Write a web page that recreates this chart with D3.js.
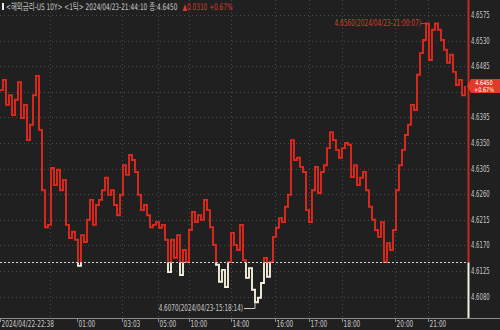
<!DOCTYPE html>
<html><head><meta charset="utf-8">
<script src="https://cdn.jsdelivr.net/npm/d3@7"></script>
<style>
html,body{margin:0;padding:0;background:#202020;}
svg{display:block;}
text{font-family:"Liberation Sans Narrow","DejaVu Sans Condensed","Arial Narrow","Noto Sans CJK KR",sans-serif;}
</style></head><body>
<svg id="c" width="500" height="330"></svg>
<script>
// ---- data ----
const titleMain = "<해외금리-US 10Y> <1틱> 2024/04/23-21:44:10 종:4.6450";
const titleChange = "▲0.0310 +0.67%";
const prevClose = 4.6140;
const lastValue = 4.6450;
const lastChangePct = "+0.67%";
const values = [
 4.6443,4.6461,4.6417,4.6434,4.6399,4.6426,4.6457,4.6394,4.6417,4.6355,
 4.6382,4.6434,4.6468,4.6373,4.6267,4.6202,4.6206,4.6306,4.6276,4.6303,
 4.6267,4.6285,4.6206,4.6183,4.6194,4.6180,4.6134,4.6188,4.6176,4.6215,
 4.6250,4.6206,4.6241,4.6250,4.6267,4.6289,4.6259,4.6267,4.6241,4.6223,
 4.6259,4.6311,4.6294,4.6329,4.6320,4.6299,4.6259,4.6232,4.6241,4.6223,
 4.6202,4.6206,4.6211,4.6201,4.6206,4.6180,4.6123,4.6180,4.6148,4.6188,
 4.6118,4.6162,4.6141,4.6197,4.6229,4.6211,4.6223,4.6215,4.6250,4.6232,
 4.6202,4.6171,4.6136,4.6106,4.6127,4.6097,4.6141,4.6192,4.6171,4.6162,
 4.6206,4.6144,4.6113,4.6130,4.6092,4.6070,4.6078,4.6104,4.6148,4.6115,
 4.6141,4.6185,4.6201,4.6218,4.6211,4.6238,4.6259,4.6355,4.6320,4.6324,
 4.6308,4.6299,4.6232,4.6211,4.6267,4.6308,4.6262,4.6299,4.6311,4.6341,
 4.6369,4.6355,4.6338,4.6324,4.6341,4.6350,4.6347,4.6290,4.6311,4.6276,
 4.6289,4.6299,4.6267,4.6238,4.6215,4.6197,4.6185,4.6211,4.6141,4.6174,
 4.6162,4.6197,4.6267,4.6311,4.6338,4.6364,4.6382,4.6417,4.6408,4.6470,
 4.6508,4.6531,4.6560,4.6496,4.6549,4.6560,4.6549,4.6531,4.6514,4.6491,
 4.6505,4.6475,4.6452,4.6461,4.6434,4.6450
];
const yTicks = [4.6575,4.6530,4.6485,4.6440,4.6395,4.6350,4.6305,4.6260,4.6215,4.6170,4.6125,4.6080];
const xTickIdx = [0, 25.7, 40.7, 52.7, 63, 77, 91.7, 103, 114, 131.7, 142.7];
const xTickLabels = ["2024/04/22-22:38","01:00","03:03","05:00","10:00","14:00","16:00","17:00","18:00","20:00","21:00"];
const xGridIdx = [16.7, 40.7, 52.7, 63, 77, 91.7, 103, 114, 131.7, 142.7];
const maxLabel = "4.6560(2024/04/23-21:00:07)";
const minLabel = "4.6070(2024/04/23-15:18:14)";

// ---- layout ----
const W = 500, H = 330;
const plotR = 468, axisY = 318;
const RED = "#e0291d", CREAM = "#f4f0dc", GRID = "#4a4a4a", TXT = "#c8c8c8";
const svg = d3.select("#c");
svg.append("rect").attr("width",W).attr("height",H).attr("fill","#202020");

// squeeze text horizontally to mimic the condensed bitmap font
function squeeze(sel, f){
  sel.each(function(){
    const w = this.getComputedTextLength();
    d3.select(this).attr("textLength", w*f).attr("lengthAdjust","spacingAndGlyphs");
  });
}

const x = d3.scaleLinear().domain([0, values.length-1]).range([0, 465]);
const y = d3.scaleLinear().domain([4.6575, 4.6080]).range([15, 296.6]);

// horizontal grid
svg.append("g").selectAll("line").data(yTicks).join("line")
  .attr("x1",0).attr("x2",plotR).attr("y1",d=>Math.round(y(d))+0.5).attr("y2",d=>Math.round(y(d))+0.5)
  .attr("stroke",GRID).attr("stroke-dasharray","1,3");
// vertical grid
svg.append("g").selectAll("line").data(xGridIdx).join("line")
  .attr("x1",d=>Math.round(x(d))+0.5).attr("x2",d=>Math.round(x(d))+0.5).attr("y1",0).attr("y2",axisY)
  .attr("stroke",GRID).attr("stroke-dasharray","1,3");

// baseline (prev close)
const by = Math.round(y(prevClose))+0.5;
svg.append("line").attr("x1",0).attr("x2",plotR).attr("y1",by).attr("y2",by)
  .attr("stroke","#d8d8d8").attr("stroke-dasharray","2,2");

// clip paths
const defs = svg.append("defs");
defs.append("clipPath").attr("id","above").append("rect").attr("x",0).attr("y",0).attr("width",plotR).attr("height",y(prevClose));
defs.append("clipPath").attr("id","below").append("rect").attr("x",0).attr("y",y(prevClose)).attr("width",plotR).attr("height",axisY-y(prevClose));

const line = d3.line().x((d,i)=>x(i)).y(d=>y(d)).curve(d3.curveStepAfter);
svg.append("path").datum(values).attr("d",line).attr("fill","none").attr("stroke",RED)
  .attr("stroke-width",1.9).attr("clip-path","url(#above)");
svg.append("path").datum(values).attr("d",line).attr("fill","none").attr("stroke",CREAM)
  .attr("stroke-width",1.9).attr("clip-path","url(#below)");

// right axis bar
svg.append("line").attr("x1",plotR+0.5).attr("x2",plotR+0.5).attr("y1",0).attr("y2",y(prevClose)).attr("stroke","#c8281e").attr("stroke-width",2);
svg.append("line").attr("x1",plotR+0.5).attr("x2",plotR+0.5).attr("y1",y(prevClose)).attr("y2",axisY).attr("stroke",CREAM).attr("stroke-width",2);

// y labels (the one under the current-value box is hidden in the reference)
const cy = y(lastValue);
const yl = svg.append("g").selectAll("text").data(yTicks.filter(d=>Math.abs(y(d)-cy)>9)).join("text")
  .attr("x",471).attr("y",d=>y(d)+3).attr("fill",TXT).attr("font-size",9)
  .text(d=>d.toFixed(4));
squeeze(yl, 0.66);

// current value box
svg.append("path").attr("d",`M467,${cy} L471,${cy-7} L500,${cy-7} L500,${cy+7} L471,${cy+7} Z`).attr("fill","#e03a2a");
const b1 = svg.append("text").attr("x",484).attr("y",cy-1).attr("text-anchor","middle").attr("fill","#fff").attr("font-size",6.5).text(lastValue.toFixed(4));
const b2 = svg.append("text").attr("x",484).attr("y",cy+6).attr("text-anchor","middle").attr("fill","#fff").attr("font-size",6.5).text(lastChangePct);
squeeze(b1,0.85); squeeze(b2,0.85);

// x axis
svg.append("line").attr("x1",0).attr("x2",W).attr("y1",axisY+0.5).attr("y2",axisY+0.5).attr("stroke","#8a8a8a");
const xt = svg.append("g").selectAll("g").data(xTickIdx).join("g").attr("transform",d=>`translate(${Math.round(x(d))+0.5},0)`);
xt.append("line").attr("y1",axisY).attr("y2",axisY+4).attr("stroke","#8a8a8a");
const xl = xt.append("text").attr("x",1).attr("y",327).attr("fill",TXT).attr("font-size",9).text((d,i)=>xTickLabels[i]);
squeeze(xl, 0.72);

// max / min annotations
const iMax = values.indexOf(d3.max(values));
const iMin = values.indexOf(d3.min(values));
const mx = svg.append("text").attr("x",x(iMax)-5).attr("y",y(values[iMax])+2.5).attr("text-anchor","end").attr("fill","#d83a2c").attr("font-size",8.5).text(maxLabel);
squeeze(mx, 0.76);
svg.append("line").attr("x1",x(iMax)-5).attr("x2",x(iMax)).attr("y1",y(values[iMax])).attr("y2",y(values[iMax])).attr("stroke","#d83a2c");
const mn = svg.append("text").attr("x",x(iMin)-12).attr("y",311).attr("text-anchor","end").attr("fill",TXT).attr("font-size",8.5).text(minLabel);
squeeze(mn, 0.74);
svg.append("path").attr("d",`M${x(iMin)-11},308.5 H${x(iMin)} V${y(values[iMin])}`).attr("fill","none").attr("stroke",TXT);

// title (condensed with a horizontal scale so its box matches what is drawn)
svg.append("rect").attr("x",2).attr("y",3).attr("width",2).attr("height",7).attr("fill","#e8e8e8");
const tg = svg.append("g").attr("transform","translate(6,0) scale(0.72,1)");
const t1 = tg.append("text").attr("x",0).attr("y",10).attr("font-size",9).attr("fill",TXT).text(titleMain);
const t1w = t1.node().getComputedTextLength();
tg.append("text").attr("x",t1w+7).attr("y",10).attr("font-size",9).attr("fill","#d83a2c").text(titleChange);
</script>
</body></html>
